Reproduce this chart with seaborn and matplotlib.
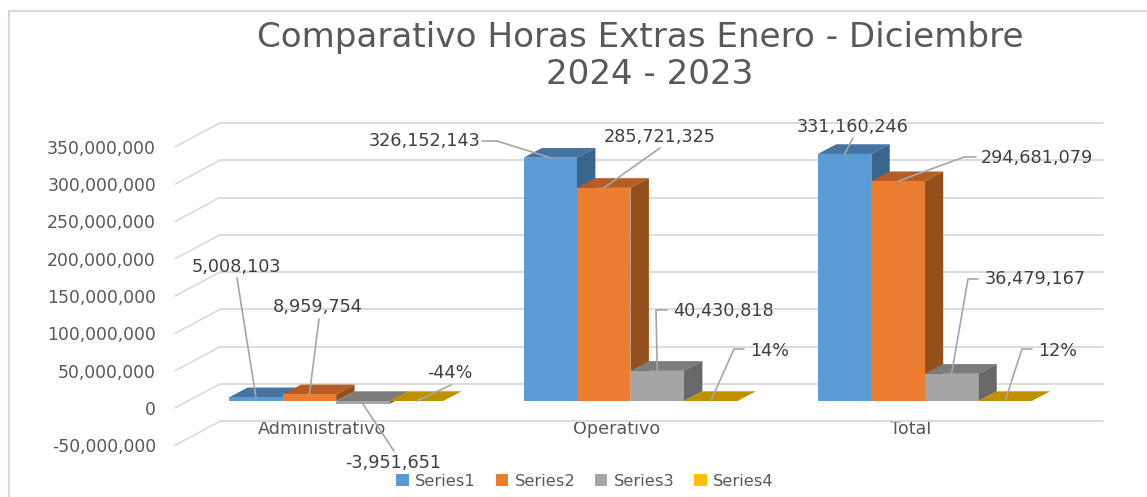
import matplotlib
matplotlib.use("Agg")
import matplotlib.pyplot as plt
import pandas as pd
import seaborn as sns
from matplotlib.lines import Line2D
from matplotlib.ticker import FuncFormatter
from matplotlib.transforms import Affine2D, IdentityTransform

# datos
categorias = ["Administrativo", "Operativo", "Total"]
series = ["Series1", "Series2", "Series3", "Series4"]
serie1 = [5008103, 326152143, 331160246]
serie2 = [8959754, 285721325, 294681079]
serie3 = [-3951651, 40430818, 36479167]
serie4 = [-0.44, 0.14, 0.12]
ticks_y = [-50000000, 0, 50000000, 100000000, 150000000, 200000000, 250000000, 300000000, 350000000]
titulo = ["Comparativo Horas Extras Enero - Diciembre", "2024 - 2023"]

# colores: frente, tapa y lateral de cada serie
color_frente = ["#5B9BD5", "#ED7D31", "#A5A5A5", "#FFC000"]
color_tapa = ["#44749F", "#B55D24", "#7C7C7C", "#BF9000"]
color_lado = ["#3A658C", "#94501C", "#686868", "#BF9000"]

# posicion de las etiquetas (pixeles de la imagen): centro del texto
pos_etiqueta = [
    [(236, 267), (425, 141), (853, 127)],
    [(318, 307), (660, 137), (1037, 158)],
    [(393, 463), (724, 311), (1035, 279)],
    [(450, 373), (770, 351), (1058, 351)],
]
# puntos de la linea guia, desde el texto hacia la barra
guia = [
    [[(237, 278)], [(482, 141), (497, 141)], [(853, 138)]],
    [[(319, 319)], [(660, 148)], [(976, 157), (964, 157)]],
    [[(394, 451)], [(667, 310), (656, 310)], [(978, 279), (968, 279)]],
    [[(451, 385)], [(744, 349), (734, 349)], [(1032, 349), (1022, 349)]],
]
pos_titulo = [(640, 38), (650, 74)]

W, H = 1147, 497
X0, X1, Y0, Y1 = 189, 1072, 110, 460   # caja de los ejes en pixeles
PX_POR_M = 0.746                       # pixeles por millon
FONDO_X, FONDO_Y = 18.4, 9.7           # profundidad de las barras
GRIS = "#D9D9D9"

sns.set_theme(style="white")
plt.rcParams["font.family"] = ["DejaVu Sans"]

valores = [serie1, serie2, serie3, serie4]
df = pd.DataFrame({
    "categoria": categorias * len(series),
    "serie": [s for s in series for _ in categorias],
    "valor": [v for fila in valores for v in fila],
})

fig = plt.figure(figsize=(W / 100, H / 100), dpi=100)
ax = fig.add_axes([X0 / W, (H - Y1) / H, (X1 - X0) / W, (Y1 - Y0) / H])
ax.patch.set_alpha(0)

sns.barplot(data=df, x="categoria", y="valor", hue="serie", hue_order=series,
            palette=color_frente, saturation=1, width=0.727, gap=0, linewidth=0,
            ax=ax)

ax.set_xlim(-0.5, 2.5)
ax.set_ylim(-(Y1 - 401) / PX_POR_M * 1e6, (401 - Y0) / PX_POR_M * 1e6)
ax.set(xlabel="", ylabel="")
sns.despine(ax=ax, left=True, bottom=True, top=True, right=True)
ax.set_yticks(ticks_y)
ax.yaxis.set_major_formatter(FuncFormatter(lambda v, _: f"{v:,.0f}"))
ax.tick_params(axis="y", length=0, pad=23.8, labelsize=12.4, labelcolor="#595959")
ax.tick_params(axis="x", length=0, pad=0, labelsize=12.7, labelcolor="#595959")

# las etiquetas de los ejes van sobre el plano delantero del piso
for lbl in ax.get_yticklabels():
    lbl.set_transform(lbl.get_transform() + Affine2D().translate(0, -7))
for lbl in ax.get_xticklabels():
    lbl.set_transform(lbl.get_transform() + Affine2D().translate(-14, 40))

# pared del fondo y lineas inclinadas del piso
trans_fondo = ax.transData + Affine2D().translate(31, 17)
trans_frente = ax.transData + Affine2D().translate(-14, -7)
for v in ticks_y:
    ax.plot([-0.5, 2.5], [v, v], color=GRIS, lw=1.3, transform=trans_fondo,
            clip_on=False, zorder=1)
    p0 = trans_frente.transform((-0.5, v))
    p1 = trans_fondo.transform((-0.5, v))
    ax.plot([p0[0], p1[0]], [p0[1], p1[1]], color=GRIS, lw=1.1,
            transform=IdentityTransform(), clip_on=False, zorder=1)

# caras superior y lateral a partir de cada barra
dx = FONDO_X / ((X1 - X0) / 3)
dy = FONDO_Y / PX_POR_M * 1e6
for i, cont in enumerate(ax.containers):
    for bar in cont:
        x0, x1 = bar.get_x(), bar.get_x() + bar.get_width()
        lo = min(bar.get_y(), bar.get_y() + bar.get_height())
        hi = max(bar.get_y(), bar.get_y() + bar.get_height())
        bar.set_zorder(3 + i)
        ax.fill([x0, x1, x1 + dx, x0 + dx], [hi, hi, hi + dy, hi + dy],
                color=color_tapa[i], lw=0, zorder=2.5 + i)
        ax.fill([x1, x1 + dx, x1 + dx, x1], [lo, lo + dy, hi + dy, hi],
                color=color_lado[i], lw=0, zorder=2.5 + i)

# etiquetas con linea guia
for i, cont in enumerate(ax.containers):
    for j, bar in enumerate(cont):
        v = valores[i][j]
        txt = f"{v:.0%}" if i == 3 else f"{v:,.0f}"
        ancla = ax.transData.transform((bar.get_x() + bar.get_width() / 2,
                                        bar.get_y() + bar.get_height()))
        puntos = [(x, H - y) for x, y in guia[i][j]] + [tuple(ancla)]
        ax.plot([p[0] for p in puntos], [p[1] for p in puntos], color="#A6A6A6",
                lw=1.2, transform=IdentityTransform(), clip_on=False, zorder=10)
        tx, ty = pos_etiqueta[i][j]
        ax.text(tx, H - ty, txt, transform=IdentityTransform(), ha="center",
                va="center", fontsize=12.7, color="#404040", clip_on=False, zorder=11)

sns.move_legend(ax, loc="center", bbox_to_anchor=(585 / W, (H - 481) / H),
                bbox_transform=fig.transFigure, ncol=4, frameon=False, title=None,
                fontsize=11.8, labelcolor="#595959", handlelength=0.75,
                handleheight=0.75, handletextpad=0.4, columnspacing=1.2,
                borderpad=0, borderaxespad=0)

for linea, (tx, ty) in zip(titulo, pos_titulo):
    fig.text(tx / W, 1 - ty / H, linea, ha="center", va="center", fontsize=24.6,
             color="#595959")

# borde exterior del grafico
fig.add_artist(Line2D([9 / W, 9 / W], [0, 1 - 11 / H], color=GRIS, lw=1.6))
fig.add_artist(Line2D([9 / W, 1], [1 - 11 / H, 1 - 11 / H], color=GRIS, lw=1.6))

fig.savefig("out.png", dpi=100)
